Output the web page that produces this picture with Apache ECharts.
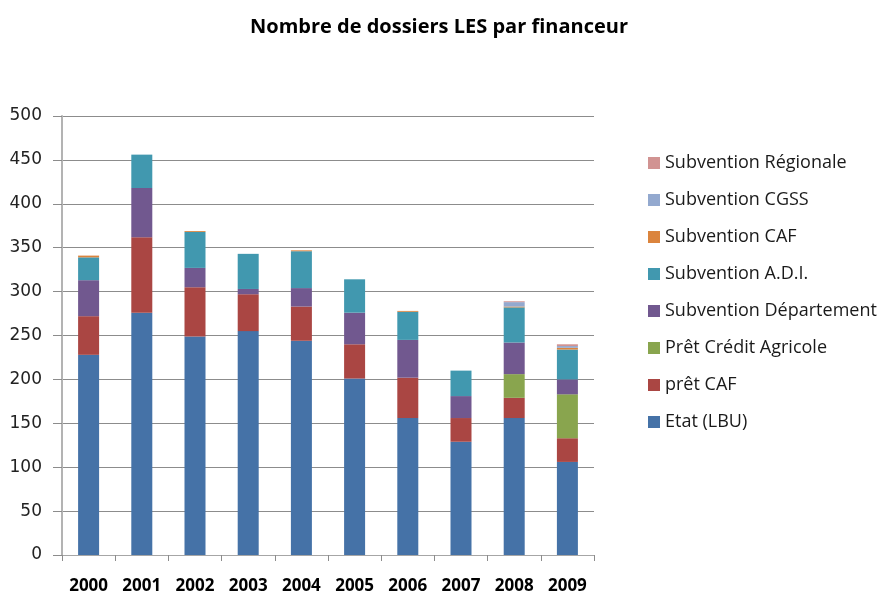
<!DOCTYPE html>
<html>
<head>
<meta charset="utf-8">
<script src="https://cdn.jsdelivr.net/npm/echarts@6/dist/echarts.min.js"></script>
<style>
  html, body { margin: 0; padding: 0; background: #fff; }
  #chart { width: 889px; height: 595px; }
</style>
</head>
<body>
<div id="chart"></div>
<script>
const years = ['2000', '2001', '2002', '2003', '2004', '2005', '2006', '2007', '2008', '2009']

// stacked bottom -> top
const etat = [228, 276, 249, 255, 244, 201, 156, 129, 156, 106]
const pretCaf = [44, 86, 56, 42, 39, 39, 46, 27, 23, 27]
const pretCreditAgricole = [0, 0, 0, 0, 0, 0, 0, 0, 27, 50]
const subDepartement = [41, 56, 22, 6, 21, 36, 43, 25, 36, 17]
const subAdi = [26, 38, 41, 40, 42, 38, 32, 29, 40, 34]
const subCaf = [2, 0, 1, 0, 1, 0, 1, 0, 1, 2]
const subCgss = [0, 0, 0, 0, 0, 0, 0, 0, 5, 2]
const subRegionale = [0, 0, 0, 0, 0, 0, 0, 0, 1, 2]

const seriesDefs = [
  { name: 'Etat (LBU)', data: etat, color: '#4572A7' },
  { name: 'prêt CAF', data: pretCaf, color: '#AA4643' },
  { name: 'Prêt Crédit Agricole', data: pretCreditAgricole, color: '#89A54E' },
  { name: 'Subvention Département', data: subDepartement, color: '#71588F' },
  { name: 'Subvention A.D.I.', data: subAdi, color: '#4198AF' },
  { name: 'Subvention CAF', data: subCaf, color: '#DB843D' },
  { name: 'Subvention CGSS', data: subCgss, color: '#93A9CF' },
  { name: 'Subvention Régionale', data: subRegionale, color: '#D19392' }
]

const chart = echarts.init(document.getElementById('chart'))

const option = {
  animation: false,
  title: {
    text: 'Nombre de dossiers LES par financeur',
    left: 434,
    textAlign: 'center',
    top: 12,
    textStyle: {
      fontFamily: 'Open Sans',
      fontSize: 20,
      fontWeight: 'bold',
      color: '#000'
    }
  },
  legend: {
    orient: 'vertical',
    left: 643,
    top: 149,
    itemWidth: 12,
    itemHeight: 12,
    itemGap: 19,
    icon: 'rect',
    data: seriesDefs.map(s => s.name).reverse(),
    textStyle: {
      fontFamily: 'Open Sans',
      fontSize: 18,
      lineHeight: 18,
      color: '#1a1a1a'
    }
  },
  grid: {
    left: 62,
    right: 295,
    top: 116,
    bottom: 38
  },
  xAxis: {
    type: 'category',
    data: years,
    axisLine: { lineStyle: { color: '#a6a6a6', width: 1 } },
    axisTick: { show: true, length: 6, lineStyle: { color: '#8c8c8c' } },
    axisLabel: {
      margin: 23,
      fontFamily: 'Open Sans',
      fontSize: 17,
      fontWeight: 'bold',
      color: '#000'
    }
  },
  yAxis: {
    type: 'value',
    min: 0,
    max: 500,
    interval: 50,
    axisLine: { show: true, lineStyle: { color: '#b3b3b3', width: 2 } },
    axisTick: { show: true, length: 9, lineStyle: { color: '#8c8c8c' } },
    axisLabel: {
      margin: 20,
      fontFamily: 'DejaVu Sans',
      fontSize: 17,
      color: '#222'
    },
    splitLine: { lineStyle: { color: '#8c8c8c', width: 1 } }
  },
  series: seriesDefs.map(s => ({
    name: s.name,
    type: 'bar',
    stack: 'total',
    barWidth: 21,
    data: s.data,
    itemStyle: { color: s.color }
  }))
}

chart.setOption(option)
</script>
</body>
</html>
